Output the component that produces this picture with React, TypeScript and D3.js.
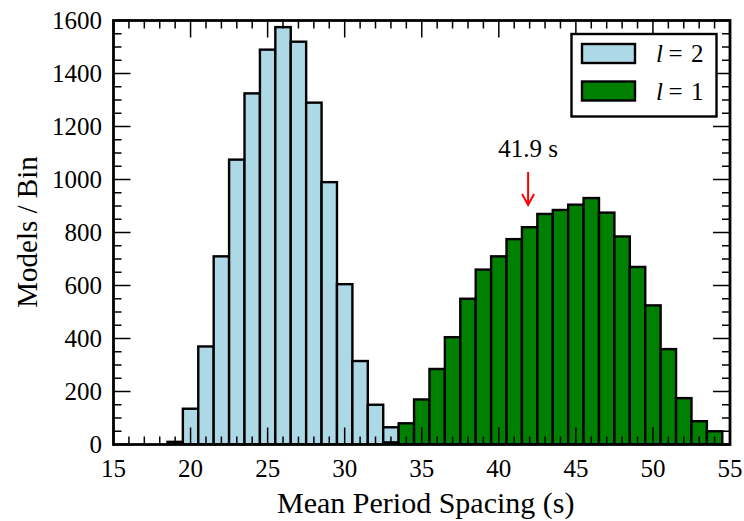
import React from "react";
import * as d3 from "d3";

const binStartsL2 = [18.5, 19.5, 20.5, 21.5, 22.5, 23.5, 24.5, 25.5, 26.5, 27.5, 28.5, 29.5, 30.5, 31.5, 32.5];
const countsL2 = [10, 135, 370, 710, 1075, 1325, 1490, 1575, 1520, 1290, 990, 605, 315, 150, 65];

const binStartsL1 = [32.5, 33.5, 34.5, 35.5, 36.5, 37.5, 38.5, 39.5, 40.5, 41.5, 42.5, 43.5, 44.5, 45.5, 46.5, 47.5, 48.5, 49.5, 50.5, 51.5, 52.5, 53.5];
const countsL1 = [8, 80, 170, 285, 405, 550, 660, 710, 775, 820, 870, 885, 905, 930, 875, 785, 670, 525, 360, 175, 88, 50];

const binWidth = 1;
const xTicks = [15, 20, 25, 30, 35, 40, 45, 50, 55];
const yTicks = [0, 200, 400, 600, 800, 1000, 1200, 1400, 1600];
const annotationValue = 41.9;
const annotationLabel = "41.9 s";
const legendItems = [
  { label: "2", color: "#add8e6" },
  { label: "1", color: "#008000" },
];

const W = 744;
const H = 521;
const FONT = "Liberation Serif, Tinos, Times New Roman, Times, DejaVu Serif, Noto Serif, serif";

export default function App() {
  const left = 113.5, right = 730, top = 20.5, bottom = 444.5;
  const x = d3.scaleLinear().domain([15, 55]).range([left, right]);
  const y = d3.scaleLinear().domain([0, 1600]).range([bottom, top]);
  const xMinor = d3.range(15, 56, 1).filter((v) => v % 5 !== 0);
  const yMinor = d3.range(0, 1601, 50).filter((v) => v % 200 !== 0);
  const majL = 17, minL = 8;

  const bars = (starts: number[], counts: number[], color: string) =>
    starts.map((s, i) => (
      <rect
        key={color + i}
        x={x(s)}
        y={y(counts[i])}
        width={x(s + binWidth) - x(s)}
        height={y(0) - y(counts[i])}
        fill={color}
        stroke="#000"
        strokeWidth={2.4}
      />
    ));

  const ax = x(annotationValue);

  return (
    <svg width={W} height={H} style={{ position: "absolute", left: 0, top: 0, background: "#fff" }}>
      <rect x={0} y={0} width={W} height={H} fill="#fff" />
      <defs>
        <clipPath id="plotclip">
          <rect x={left} y={top} width={right - left} height={bottom - top} />
        </clipPath>
      </defs>
      <g clipPath="url(#plotclip)">
        {bars(binStartsL2, countsL2, legendItems[0].color)}
        {bars(binStartsL1, countsL1, legendItems[1].color)}
      </g>
      <g stroke="#000" strokeWidth={1.5}>
        {xTicks.map((t) => (
          <g key={"xt" + t}>
            <line x1={x(t)} x2={x(t)} y1={bottom} y2={bottom - majL} />
            <line x1={x(t)} x2={x(t)} y1={top} y2={top + majL} />
          </g>
        ))}
        {xMinor.map((t) => (
          <g key={"xm" + t}>
            <line x1={x(t)} x2={x(t)} y1={bottom} y2={bottom - minL} />
            <line x1={x(t)} x2={x(t)} y1={top} y2={top + minL} />
          </g>
        ))}
        {yTicks.map((t) => (
          <g key={"yt" + t}>
            <line x1={left} x2={left + majL} y1={y(t)} y2={y(t)} />
            <line x1={right} x2={right - majL} y1={y(t)} y2={y(t)} />
          </g>
        ))}
        {yMinor.map((t) => (
          <g key={"ym" + t}>
            <line x1={left} x2={left + minL} y1={y(t)} y2={y(t)} />
            <line x1={right} x2={right - minL} y1={y(t)} y2={y(t)} />
          </g>
        ))}
      </g>
      <rect x={left} y={top} width={right - left} height={bottom - top} fill="none" stroke="#000" strokeWidth={2.8} />
      <g style={{ fontFamily: FONT }} fontSize={25} fill="#000">
        {xTicks.map((t) => (
          <text key={"xl" + t} x={x(t)} y={476.5} textAnchor="middle">
            {t}
          </text>
        ))}
        {yTicks.map((t) => (
          <text key={"yl" + t} x={102} y={y(t) + 8.5} textAnchor="end">
            {t}
          </text>
        ))}
      </g>
      <text x={(left + right) / 2 + 4} y={513} textAnchor="middle" style={{ fontFamily: FONT }} fontSize={30}>
        Mean Period Spacing (s)
      </text>
      <text
        transform={`translate(37, ${232}) rotate(-90)`}
        textAnchor="middle"
        style={{ fontFamily: FONT }}
        fontSize={29}
      >
        Models / Bin
      </text>
      <text x={ax} y={157} textAnchor="middle" style={{ fontFamily: FONT }} fontSize={25}>
        {annotationLabel}
      </text>
      <g stroke="#ff0000" strokeWidth={2} fill="none">
        <line x1={ax} x2={ax} y1={172} y2={205} />
        <polyline points={`${ax - 6},${194} ${ax},${205} ${ax + 6},${194}`} />
      </g>
      <rect x={571.5} y={34} width={145} height={82.5} fill="#fff" stroke="#000" strokeWidth={2.4} />
      {legendItems.map((it, i) => {
        const ly = 44 + i * 37.5;
        return (
          <g key={"lg" + i}>
            <rect x={582} y={ly} width={53} height={19} fill={it.color} stroke="#000" strokeWidth={2.4} />
            <text x={656} y={ly + 18} style={{ fontFamily: FONT, fontStyle: "italic" }} fontSize={25}>
              l
            </text>
            <text x={668.5} y={ly + 18} style={{ fontFamily: FONT }} fontSize={25}>
              =
            </text>
            <text x={691} y={ly + 18} style={{ fontFamily: FONT }} fontSize={25}>
              {it.label}
            </text>
          </g>
        );
      })}
    </svg>
  );
}
